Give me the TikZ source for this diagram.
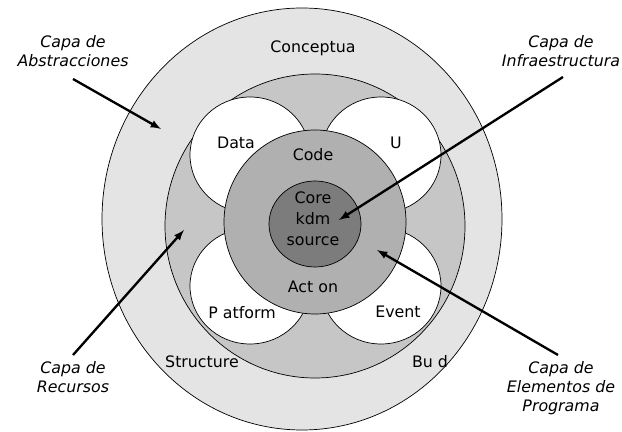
\documentclass[tikz,border=0pt]{standalone}
\usepackage{fontspec}
\setmainfont{DejaVu Sans}
\usepackage{tikz}
\usepackage{xcolor}
\usetikzlibrary{arrows}
\definecolor{capaext}{HTML}{E4E4E4}
\definecolor{capamed}{HTML}{C6C6C6}
\definecolor{capacod}{HTML}{B0B0B0}
\definecolor{capacore}{HTML}{7C7C7C}
\newcommand{\petalo}[2][]{
    \draw[fill=white, #1] #2 ellipse (60 and 58);
    }

\begin{document}
\begin{tikzpicture}[x=0.03cm, y=0.03cm, line width=0.6pt,
    texto/.style={font=\fontsize{13.5}{18}\selectfont, align=center},
    capa/.style={font=\fontsize{13.5}{16}\selectfont\itshape, align=center},
    flecha/.style={-latex, line width=2pt}]
    \useasboundingbox (0,0) rectangle (622,432);
    \draw[fill=capaext] (302,213) ellipse (200 and 211);
    \draw[fill=capamed] (315,206) ellipse (150 and 152);
    \petalo{(250,277)}
    \petalo{(381,277)}
    \petalo{(250,146)}
    \petalo{(381,146)}
    \draw[fill=capacod] (315,210) ellipse (91 and 92);
    \draw[fill=capacore] (315,208) ellipse (46 and 43);

    \node[texto] (concep) at (313,384) {Conceptua};
    \node[texto] (data) at (236,289) {Data};
    \node[texto] (ui) at (396,289) {U};
    \node[texto] (code) at (313,277) {Code};
    \node[texto] (core) at (313,213) {Core\\kdm\\source};
    \node[texto] (action) at (313,145) {Act on};
    \node[texto] (platf) at (242,119) {P atform};
    \node[texto] (event) at (398,120) {Event};
    \node[texto] (struc) at (202,70) {Structure};
    \node[texto] (build) at (430,70) {Bu d};

    \node[capa] (abs) at (73,381) {Capa de\\Abstracciones};
    \node[capa] (infra) at (561,381) {Capa de\\Infraestructura};
    \node[capa] (recur) at (73,55) {Capa de\\Recursos};
    \node[capa] (elem) at (561,44) {Capa de\\Elementos de\\Programa};

    \coordinate (absT) at (73,353);
    \coordinate (absH) at (161,303);
    \coordinate (infraT) at (563,355);
    \coordinate (infraH) at (339,212);
    \coordinate (recurT) at (73,77);
    \coordinate (recurH) at (184,202);
    \coordinate (elemT) at (558,77);
    \coordinate (elemH) at (377,182);
    \draw[flecha] (absT) -- (absH);
    \draw[flecha] (infraT) -- (infraH);
    \draw[flecha] (recurT) -- (recurH);
    \draw[flecha] (elemT) -- (elemH);
\end{tikzpicture}
\end{document}
